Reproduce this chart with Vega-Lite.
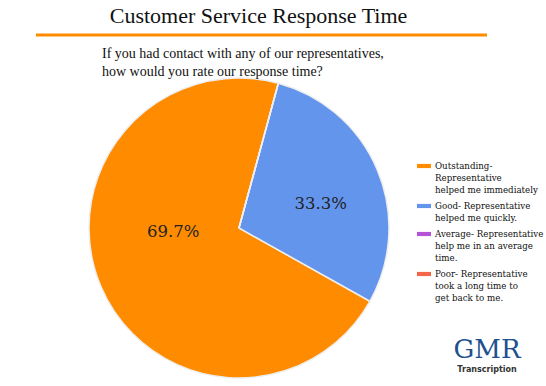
{
  "$schema": "https://vega.github.io/schema/vega-lite/v6.json",
  "padding": {"left": 34, "top": 4, "right": 0, "bottom": 0},
  "background": "white",
  "config": {"view": {"stroke": null}, "font": "Liberation Serif", "style": {"guide-label": {"lineHeight": 12}}},
  "spacing": 10,
  "vconcat": [
    {
      "width": 451,
      "height": 1,
      "title": {"text": "Customer Service Response Time", "font": "Liberation Serif", "fontSize": 22, "fontWeight": "normal", "color": "#111111", "anchor": "middle", "dx": -3, "offset": 6},
      "data": {"values": [{"element": "underline"}]},
      "mark": {"type": "rule", "color": "#FF8C00", "strokeWidth": 3},
      "encoding": {"y": {"datum": 0, "type": "quantitative", "scale": {"domain": [0, 1]}, "axis": null}}
    },
    {
      "spacing": 0,
      "bounds": "flush",
      "hconcat": [
        {
          "width": 406,
          "height": 300,
          "title": {
            "text": ["If you had contact with any of our representatives,", "how would you rate our response time?"],
            "anchor": "start",
            "dx": 66,
            "font": "Liberation Serif",
            "fontSize": 14,
            "fontWeight": "normal",
            "color": "#111111",
            "lineHeight": 18,
            "offset": -4
          },
          "data": {
            "values": [
              {"response": "Outstanding", "share": 71.1, "label": "69.7%"},
              {"response": "Good", "share": 28.9, "label": "33.3%"},
              {"response": "Average", "share": 0, "label": ""},
              {"response": "Poor", "share": 0, "label": ""}
            ]
          },
          "encoding": {
            "theta": {"field": "share", "type": "quantitative", "stack": true, "scale": {"range": [0.2653, 6.5485]}},
            "order": {"field": "response", "sort": "ascending"},
            "color": {
              "field": "response",
              "type": "nominal",
              "scale": {"domain": ["Outstanding", "Good", "Average", "Poor"], "range": ["#FF8C00", "#6495ED", "#B552D6", "#F4664A"]},
              "legend": {
                "title": null,
                "orient": "none",
                "legendX": 381,
                "legendY": 125,
                "padding": 0,
                "symbolType": "M-1,-0.3H1V0.3H-1Z",
                "symbolSize": 196,
                "symbolStrokeWidth": 0,
                "labelFont": "DejaVu Serif",
                "labelFontSize": 8.7,
                "labelColor": "#111111",
                "labelLimit": 200,
                "labelOffset": 4,
                "rowPadding": 4,
                "labelExpr": "{'Outstanding': ['Outstanding-', 'Representative', 'helped me immediately'], 'Good': ['Good- Representative', 'helped me quickly.'], 'Average': ['Average- Representative', 'help me in an average', 'time.'], 'Poor': ['Poor- Representative', 'took a long time to', 'get back to me.']}[datum.label]"
              }
            }
          },
          "layer": [
            {"mark": {"type": "arc", "stroke": "#eeeeee", "strokeWidth": 1.5}},
            {
              "mark": {"type": "text", "radius": 75, "thetaOffset": 0.211, "dx": 8, "dy": -10, "font": "DejaVu Serif", "fontSize": 16.5, "color": "#222222"},
              "encoding": {"text": {"field": "label", "type": "nominal"}, "color": {"value": "#222222"}}
            }
          ]
        },
        {
          "width": 90,
          "height": 255,
          "title": {
            "text": "GMR",
            "subtitle": "Transcription",
            "orient": "bottom",
            "anchor": "middle",
            "font": "DejaVu Serif",
            "fontSize": 26,
            "fontWeight": "normal",
            "color": "#21508F",
            "subtitleFont": "DejaVu Sans",
            "subtitleFontSize": 8,
            "subtitleFontWeight": "bold",
            "subtitleColor": "#333333",
            "offset": 4
          },
          "data": {"values": []},
          "mark": "point",
          "encoding": {}
        }
      ]
    }
  ]
}
